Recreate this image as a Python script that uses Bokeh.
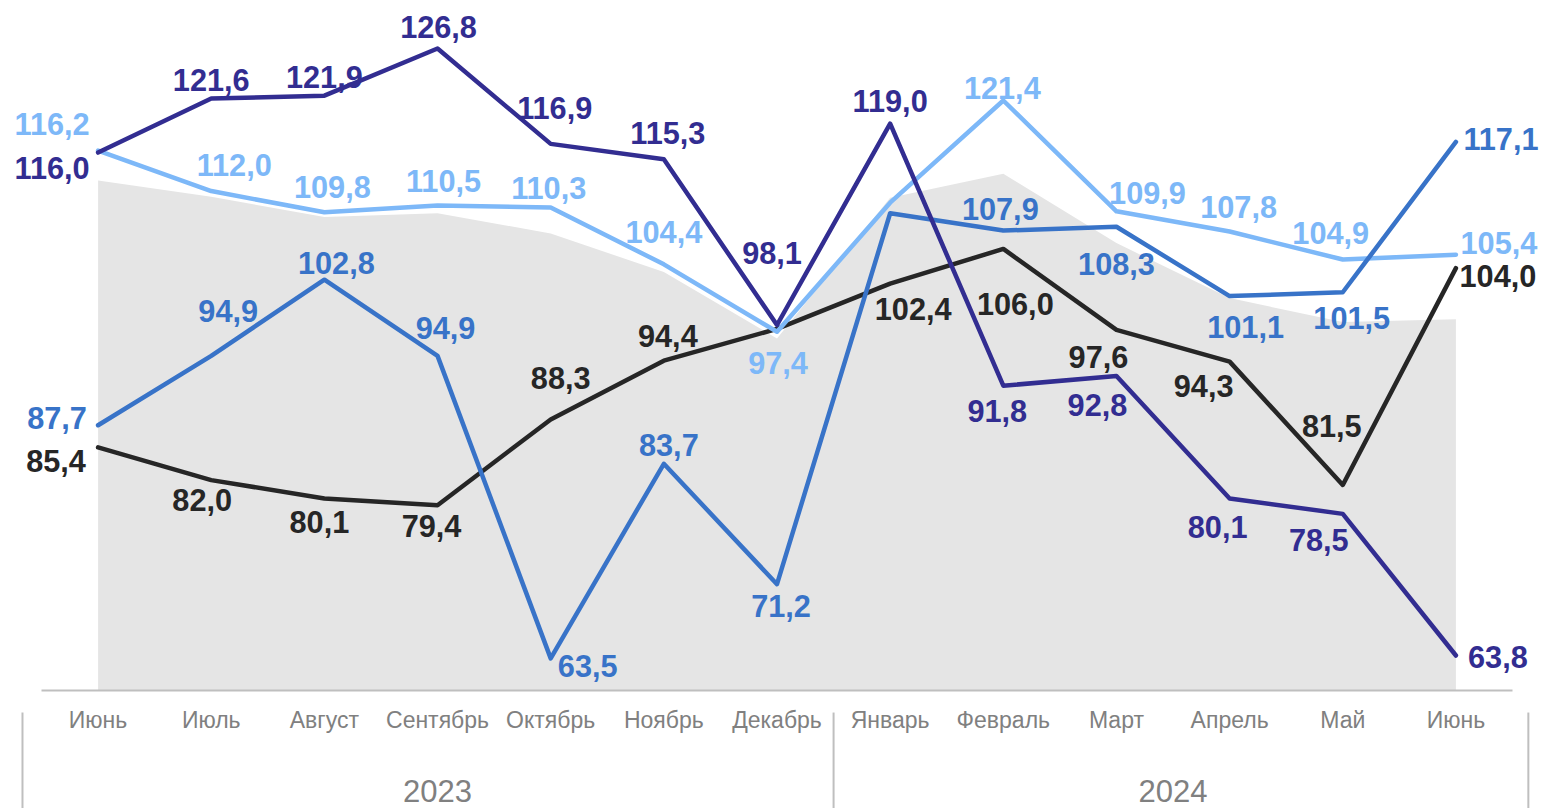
from bokeh.plotting import figure
from bokeh.models import (ColumnDataSource, FactorRange, Range1d, CategoricalAxis,
                          LabelSet)
from bokeh.core.properties import value
from bokeh.embed import file_html
from bokeh.resources import INLINE

# ---------------- data ----------------
years = ["2023"] * 7 + ["2024"] * 6
months = ["Июнь", "Июль", "Август", "Сентябрь", "Октябрь", "Ноябрь", "Декабрь",
          "Январь", "Февраль", "Март", "Апрель", "Май", "Июнь"]

navy_vals = [116.0, 121.6, 121.9, 126.8, 116.9, 115.3, 98.1, 119.0, 91.8, 92.8, 80.1, 78.5, 63.8]
light_vals = [116.2, 112.0, 109.8, 110.5, 110.3, 104.4, 97.4, 110.8, 121.4, 109.9, 107.8, 104.9, 105.4]
mid_vals = [87.7, 94.9, 102.8, 94.9, 63.5, 83.7, 71.2, 109.7, 107.9, 108.3, 101.1, 101.5, 117.1]
black_vals = [85.4, 82.0, 80.1, 79.4, 88.3, 94.4, 97.7, 102.4, 106.0, 97.6, 94.3, 81.5, 104.0]
area_vals = [113.1, 111.4, 109.3, 109.7, 107.6, 103.6, 96.7, 111.3, 113.8, 106.6, 100.9, 98.4, 98.7]

# points whose value label is not shown in the picture
navy_hidden = []
light_hidden = [7]
mid_hidden = [7]
black_hidden = [6]

# ---------------- label placement (screen px: dx right, dy down) ----------------
navy_dx = [-46, 0, 0, 1, 4, 4, -5, 0, -6, -19, -12, -24, 42]
navy_dy = [15, -19, -19, -21, -36, -26, -72, -23, 25, 29, 29, 26, 2]
light_dx = [-46, 23, 8, 6, -2, 0, 1, 0, -1, 31, 9, -12, 43]
light_dy = [-27, -26, -25, -25, -19, -32, 31, 0, -13, -18, -25, -26, -12]
mid_dx = [-41, 17, 12, 8, 37, 5, 4, 0, -3, 0, 16, 9, 45]
mid_dy = [-7, -45, -17, -28, 8, -19, 22, 0, -22, 37, 31, 26, -3]
black_dx = [-42, -9, -5, -6, 10, 4, 0, 23, 12, -18, -26, -11, 42]
black_dy = [14, 20, 24, 21, -41, -25, 0, 25, 55, 27, 24, -59, 8]

# ---------------- styles / layout ----------------
NAVY = "#322D91"
LIGHT = "#7DB8F8"
MID = "#3873C8"
BLACK = "#262626"
AREA = "#E5E5E5"
AXIS_GREY = "#BFBFBF"
TEXT_GREY = "#808080"
FONT = "Liberation Sans"

Y_BASE = 60.17          # value at the category axis line
Y_LOW, Y_HIGH = 47.92, 131.78
separator_x = [-0.168, 7.0, 13.14]   # synthetic axis positions of group separators
SEP_TOP = 57.88

factors = list(zip(years, months))

x_range = FactorRange(*factors, range_padding=0.2651, range_padding_units="absolute",
                      factor_padding=0, group_padding=0, subgroup_padding=0)

p = figure(width=1542, height=808, x_range=x_range, y_range=Range1d(Y_LOW, Y_HIGH),
           output_backend="svg", toolbar_location=None,
           x_axis_location=None, y_axis_location=None,
           min_border_left=11, min_border_right=0, min_border_top=0, min_border_bottom=0)
p.outline_line_color = None
p.xgrid.visible = False
p.ygrid.visible = False
p.background_fill_color = "white"
p.border_fill_color = "white"

# grey area
p.varea(x=factors, y1=[Y_BASE] * len(factors), y2=area_vals, fill_color=AREA)

# separators of the year groups
p.segment(x0=separator_x, x1=separator_x, y0=[SEP_TOP] * 3, y1=[Y_LOW] * 3,
          line_color=AXIS_GREY, line_width=2)

# axis with month labels
ax = CategoricalAxis(fixed_location=Y_BASE, bounds=(0, 13),
                     axis_line_color=AXIS_GREY, axis_line_width=2,
                     major_tick_line_color=None, minor_tick_line_color=None,
                     major_label_text_font=FONT,
                     major_label_text_font_size="23px",
                     major_label_text_color=TEXT_GREY,
                     major_label_standoff=11,
                     group_text_color=None,
                     separator_line_color=None)
p.add_layout(ax, "below")

# axis with year labels
ax2 = CategoricalAxis(fixed_location=Y_BASE, bounds=(0, 13),
                      axis_line_color=None,
                      major_tick_line_color=None, minor_tick_line_color=None,
                      major_label_text_font_size="1px",
                      major_label_text_color=None,
                      major_label_standoff=84,
                      group_text_font=FONT,
                      group_text_font_size="31px",
                      group_text_font_style="normal",
                      group_text_color=TEXT_GREY,
                      separator_line_color=None)
p.add_layout(ax2, "below")


def fmt(v):
    return f"{v:.1f}".replace(".", ",")


def series(vals, color, dx, dy, hidden):
    src = ColumnDataSource(dict(x=factors, y=vals))
    p.line("x", "y", source=src, line_color=color, line_width=4.5,
           line_join="round", line_cap="round")
    idx = [i for i in range(len(vals)) if i not in hidden]
    lab = ColumnDataSource(dict(
        x=[factors[i] for i in idx],
        y=[vals[i] for i in idx],
        t=[fmt(vals[i]) for i in idx],
        xo=[dx[i] for i in idx],
        yo=[-dy[i] for i in idx],
    ))
    p.add_layout(LabelSet(x="x", y="y", text="t", source=lab, x_offset="xo", y_offset="yo",
                          text_align="center", text_baseline="middle",
                          text_font=value(FONT), text_font_style="bold",
                          text_font_size="30.7px", text_color=color))


series(black_vals, BLACK, black_dx, black_dy, black_hidden)
series(light_vals, LIGHT, light_dx, light_dy, light_hidden)
series(mid_vals, MID, mid_dx, mid_dy, mid_hidden)
series(navy_vals, NAVY, navy_dx, navy_dy, navy_hidden)

open("out.html", "w").write(file_html(p, INLINE))
